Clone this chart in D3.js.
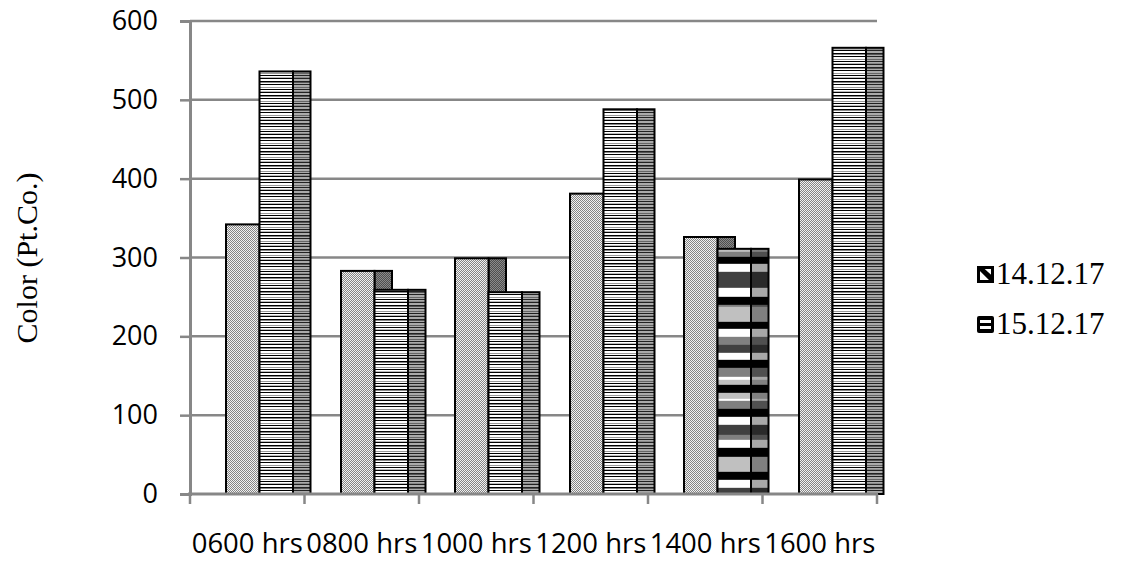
<!DOCTYPE html>
<html>
<head>
<meta charset="utf-8">
<script src="https://cdn.jsdelivr.net/npm/d3@7"></script>
<style>
  body { margin: 0; background: #fff; }
  svg { display: block; }
</style>
</head>
<body>
<div id="chart"></div>
<script>
// Data
const categories = ["0600 hrs", "0800 hrs", "1000 hrs", "1200 hrs", "1400 hrs", "1600 hrs"];
const seriesNames = ["14.12.17", "15.12.17"];
const values1412 = [342, 283, 299, 381, 326, 399];
const values1512 = [536, 259, 256, 488, 311, 566];
const yTicks = [0, 100, 200, 300, 400, 500, 600];

const W = 1124, H = 563;
const svg = d3.select("#chart").append("svg")
    .attr("width", W)
    .attr("height", H);

const defs = svg.append("defs");

// fine checker for the 14.12.17 faces
function checker(id, light, dark) {
  const p = defs.append("pattern").attr("id", id)
      .attr("patternUnits", "userSpaceOnUse").attr("width", 2).attr("height", 2);
  p.append("rect").attr("width", 2).attr("height", 2).attr("fill", light);
  p.append("rect").attr("width", 1).attr("height", 1).attr("fill", dark);
  p.append("rect").attr("x", 1).attr("y", 1).attr("width", 1).attr("height", 1).attr("fill", dark);
}
checker("s1front", "#f2f2f2", "#858585");
checker("s1side", "#8a8a8a", "#4e4e4e");

// horizontal line pattern for 15.12.17
const stripeRows = ["#000", "#fff", "#fff", "#999", "#fff", "#000", "#fff", "#bbb", "#000", "#fff", "#fff", "#000", "#888", "#fff"];
const darker = {"#000": "#222", "#fff": "#aaa", "#999": "#666", "#bbb": "#888", "#888": "#555"};
function stripes(id, rows) {
  const p = defs.append("pattern").attr("id", id)
      .attr("patternUnits", "userSpaceOnUse").attr("width", 4).attr("height", rows.length);
  rows.forEach((c, i) => p.append("rect").attr("y", i).attr("width", 4).attr("height", 1).attr("fill", c));
}
stripes("s2front", stripeRows);
stripes("s2side", stripeRows.map(c => darker[c]));

// block bands used on the 1400 hrs bar of 15.12.17 (offsets from bar top)
const blockBands = [
  [0, 3, "#c0c0c0"], [3, 8, "#808080"], [8, 15, "#000"], [15, 23, "#fff"], [23, 39, "#404040"],
  [39, 48, "#fff"], [48, 56, "#000"], [56, 58, "#808080"], [58, 73, "#c0c0c0"], [73, 80, "#000"],
  [80, 88, "#fff"], [88, 96, "#808080"], [96, 104, "#404040"], [104, 111, "#fff"], [111, 119, "#000"],
  [119, 128, "#808080"], [128, 131, "#fff"], [131, 136, "#c0c0c0"], [136, 144, "#000"], [144, 150, "#c0c0c0"],
  [150, 152, "#fff"], [152, 160, "#808080"], [160, 168, "#000"], [168, 176, "#fff"], [176, 186, "#404040"],
  [186, 191, "#808080"], [191, 199, "#fff"], [199, 208, "#000"], [208, 223, "#c0c0c0"], [223, 231, "#000"],
  [231, 239, "#fff"], [239, 260, "#404040"]
];
const blockDark = {"#000": "#000", "#fff": "#a8a8a8", "#c0c0c0": "#808080", "#808080": "#505050", "#404040": "#2a2a2a"};

// Scales
const x0 = d3.scaleBand().domain(categories).range([190, 877]);
const y = d3.scaleLinear().domain([0, 600]).range([494, 21]);
const x1 = d3.scaleBand().domain(seriesNames).range([36, 103]);
const depth = 17.5;
const gridColor = "#878787";

// Gridlines
svg.append("g").selectAll("line")
  .data(yTicks.filter(d => d > 0))
  .join("line")
    .attr("x1", 190).attr("x2", 877)
    .attr("y1", d => y(d)).attr("y2", d => y(d))
    .attr("stroke", gridColor).attr("stroke-width", 2.5);

// Bars
const rows = categories.map((c, i) => ({cat: c, v: [values1412[i], values1512[i]]}));
const groups = svg.append("g").selectAll("g")
  .data(rows)
  .join("g")
    .attr("transform", d => "translate(" + Math.round(x0(d.cat)) + ",0)");

groups.each(function(d, i) {
  const g = d3.select(this);
  seriesNames.forEach((s, k) => {
    const v = d.v[k];
    const bx = x1(s), bw = x1.bandwidth();
    const top = y(v), h = y(0) - y(v);
    let sideFill = k === 0 ? "url(#s1side)" : "url(#s2side)";
    let frontFill = k === 0 ? "url(#s1front)" : "url(#s2front)";
    if (k === 1 && d.cat === "1400 hrs") {
      const pf = defs.append("pattern").attr("id", "blockf")
          .attr("patternUnits", "userSpaceOnUse").attr("y", top).attr("width", 10).attr("height", 400);
      const ps = defs.append("pattern").attr("id", "blocks")
          .attr("patternUnits", "userSpaceOnUse").attr("y", top).attr("width", 10).attr("height", 400);
      blockBands.forEach(b => {
        pf.append("rect").attr("y", b[0]).attr("width", 10).attr("height", b[1] - b[0]).attr("fill", b[2]);
        ps.append("rect").attr("y", b[0]).attr("width", 10).attr("height", b[1] - b[0]).attr("fill", blockDark[b[2]]);
      });
      pf.append("rect").attr("y", 260).attr("width", 10).attr("height", 140).attr("fill", "#000");
      ps.append("rect").attr("y", 260).attr("width", 10).attr("height", 140).attr("fill", "#000");
      frontFill = "url(#blockf)";
      sideFill = "url(#blocks)";
    }
    g.append("rect")
      .attr("x", bx + bw).attr("y", top)
      .attr("width", depth).attr("height", h)
      .attr("fill", sideFill)
      .attr("stroke", "#000").attr("stroke-width", 2);
    g.append("rect")
      .attr("x", bx).attr("y", top)
      .attr("width", bw).attr("height", h)
      .attr("fill", frontFill)
      .attr("stroke", "#000").attr("stroke-width", 2);
  });
});

// Y axis
const yAxis = svg.append("g")
    .attr("transform", "translate(190,0)")
    .call(d3.axisLeft(y).tickValues(yTicks).tickSize(10).tickPadding(22));
yAxis.select(".domain").attr("stroke", gridColor).attr("stroke-width", 3);
yAxis.selectAll(".tick line").attr("stroke", gridColor).attr("stroke-width", 2.5).attr("x2", -10);
yAxis.selectAll(".tick text")
    .attr("font-family", "'Open Sans', sans-serif")
    .attr("font-size", 27)
    .attr("fill", "#000");

// X axis
const xAxis = svg.append("g").attr("transform", "translate(0,494)");
xAxis.append("line")
    .attr("x1", 188).attr("x2", 878)
    .attr("stroke", gridColor).attr("stroke-width", 3);
xAxis.selectAll(".xt")
  .data(categories.map(c => x0(c)).concat([x0.range()[1]]))
  .join("line")
    .attr("class", "xt")
    .attr("x1", d => d).attr("x2", d => d)
    .attr("y1", 0).attr("y2", 10)
    .attr("stroke", gridColor).attr("stroke-width", 2.5);
xAxis.selectAll("text")
  .data(categories)
  .join("text")
    .attr("x", d => x0(d) + x0.bandwidth() / 2)
    .attr("y", 59)
    .attr("text-anchor", "middle")
    .attr("font-family", "'Open Sans', sans-serif")
    .attr("font-size", 28)
    .attr("textLength", 111)
    .attr("lengthAdjust", "spacingAndGlyphs")
    .text(d => d);

// Y axis title
svg.append("text")
    .attr("transform", "translate(37,258) rotate(-90)")
    .attr("text-anchor", "middle")
    .attr("font-family", "'Liberation Serif', 'Times New Roman', serif")
    .attr("font-size", 30)
    .text("Color (Pt.Co.)");

// Legend
const legend = svg.append("g").selectAll("g")
  .data(seriesNames)
  .join("g")
    .attr("transform", (d, i) => "translate(977," + (266 + i * 50) + ")");

legend.each(function(d, i) {
  const g = d3.select(this);
  if (i === 0) {
    g.append("rect").attr("x", 1.5).attr("y", 1.5).attr("width", 14).attr("height", 14)
      .attr("fill", "#fff").attr("stroke", "#000").attr("stroke-width", 3);
    g.append("path").attr("d", "M1.5,1.5 L15.5,15.5 L15.5,10 L6,1.5 Z").attr("fill", "#000");
    g.append("line").attr("x1", 1.5).attr("y1", 1.5).attr("x2", 15.5).attr("y2", 15.5)
      .attr("stroke", "#000").attr("stroke-width", 3);
  } else {
    g.append("rect").attr("width", 17).attr("height", 17).attr("rx", 2).attr("fill", "#000");
    g.append("rect").attr("x", 3).attr("y", 4).attr("width", 11).attr("height", 3).attr("fill", "#fff");
    g.append("rect").attr("x", 3).attr("y", 10).attr("width", 11).attr("height", 3).attr("fill", "#fff");
  }
  g.append("text")
    .attr("x", 19).attr("y", 18)
    .attr("font-family", "'Liberation Serif', 'Times New Roman', serif")
    .attr("font-size", 31)
    .text(d);
});
</script>
</body>
</html>
